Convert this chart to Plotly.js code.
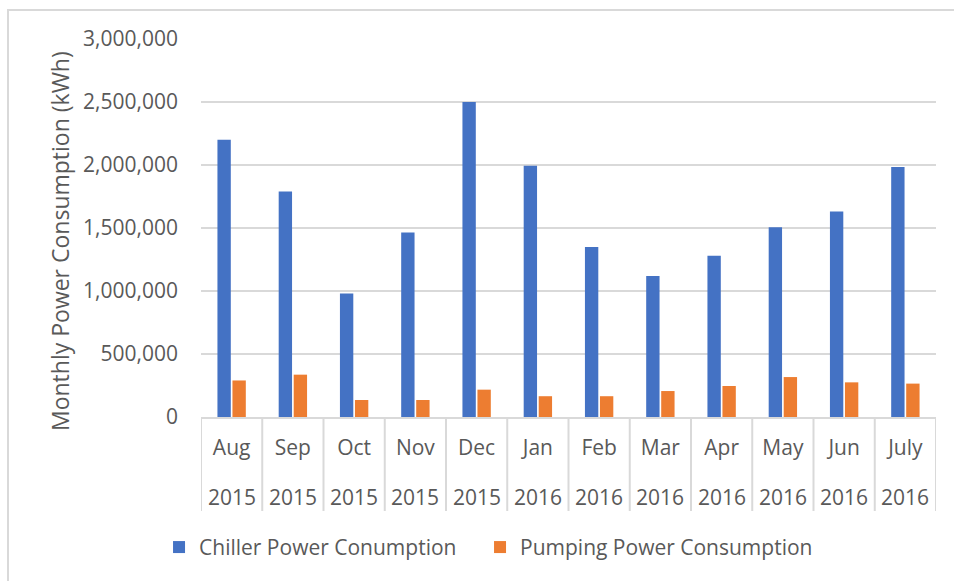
<!DOCTYPE html>
<html>
<head>
<meta charset="utf-8">
<script src="https://cdn.plot.ly/plotly-3.0.1.min.js"></script>
<style>
  html, body { margin: 0; padding: 0; background: #ffffff; }
  #chart { width: 954px; height: 581px; }
</style>
</head>
<body>
<div id="chart"></div>
<script>
// ---- data ----
const months = ["Aug", "Sep", "Oct", "Nov", "Dec", "Jan", "Feb", "Mar", "Apr", "May", "Jun", "July"];
const years  = ["2015", "2015", "2015", "2015", "2015", "2016", "2016", "2016", "2016", "2016", "2016", "2016"];
const chiller = [2200000, 1790000, 980000, 1465000, 2500000, 1995000, 1350000, 1120000, 1280000, 1505000, 1630000, 1985000];
const pumping = [290000, 336000, 135000, 135000, 217000, 165000, 165000, 206000, 246000, 317000, 275000, 265000];
const seriesNames = ["Chiller Power Conumption", "Pumping Power Consumption"];
const yTitle = "Monthly Power Consumption (kWh)";

const FONT = "'Open Sans', 'Noto Sans', sans-serif";
const GREY_TXT = "#595959";
const GRID = "#d9d9d9";
const FS = 21;

const catIdx = months.map((m, i) => i);

const traces = [
  { type: "bar", name: seriesNames[0], x: catIdx, y: chiller, marker: { color: "#4472C4" }, hoverinfo: "y", legendwidth: 276 },
  { type: "bar", name: seriesNames[1], x: catIdx, y: pumping, marker: { color: "#ED7D31" }, hoverinfo: "y" }
];

// category dividers below the axis
const shapes = [];
for (let i = 0; i <= months.length; i++) {
  shapes.push({ type: "line", xref: "x", yref: "paper", x0: i - 0.5, x1: i - 0.5, y0: 0, y1: -0.2487,
                line: { color: GRID, width: 2 } });
}
// outer frame
shapes.push({ type: "rect", xref: "paper", yref: "paper", x0: -0.2626, x1: 1.05, y0: -0.5, y1: 1.0767,
              line: { color: GRID, width: 2 }, fillcolor: "rgba(0,0,0,0)", layer: "below" });

const annotations = years.map((yr, i) => ({
  xref: "x", yref: "paper", x: i, y: -0.2108, text: yr, showarrow: false,
  xanchor: "center", yanchor: "middle", font: { family: FONT, size: FS, color: GREY_TXT }
}));
annotations.push({
  xref: "paper", yref: "paper", x: -0.1918, y: 0.4656, text: yTitle, textangle: -90, showarrow: false,
  xanchor: "center", yanchor: "middle", font: { family: FONT, size: 23, color: GREY_TXT }
});

const layout = {
  width: 954, height: 581,
  margin: { l: 201, r: 18, t: 39, b: 164, pad: 0 },
  paper_bgcolor: "#ffffff", plot_bgcolor: "#ffffff",
  font: { family: FONT, size: FS, color: GREY_TXT },
  barmode: "group", bargap: 0.51, bargroupgap: 0.11,
  showlegend: true,
  legend: {
    orientation: "h", x: -0.0571, xanchor: "left", y: -0.345, yanchor: "middle",
    font: { family: FONT, size: FS, color: GREY_TXT }, itemclick: false
  },
  xaxis: {
    type: "linear", range: [-0.5, months.length - 0.5],
    tickmode: "array", tickvals: catIdx, ticktext: months,
    showgrid: false, zeroline: false, showline: true, linecolor: GRID, linewidth: 2,
    ticks: "", ticklabelstandoff: 11, fixedrange: true,
    tickfont: { family: FONT, size: FS, color: GREY_TXT }
  },
  yaxis: {
    range: [0, 3000000], dtick: 500000, tick0: 0, tickformat: ",d",
    showgrid: true, gridcolor: GRID, gridwidth: 2, zeroline: false, showline: false,
    ticks: "", ticklabelstandoff: 22, fixedrange: true,
    tickfont: { family: FONT, size: FS, color: GREY_TXT }
  },
  shapes: shapes,
  annotations: annotations
};

Plotly.newPlot("chart", traces, layout, { displayModeBar: false, staticPlot: true });
</script>
</body>
</html>
